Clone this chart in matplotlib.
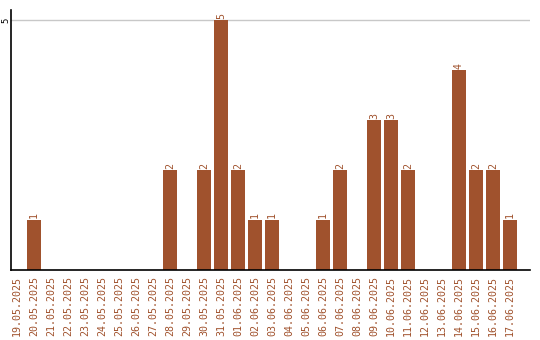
import matplotlib
matplotlib.use("Agg")
import matplotlib.pyplot as plt

# daily counts
dates = [
    "19.05.2025", "20.05.2025", "21.05.2025", "22.05.2025", "23.05.2025",
    "24.05.2025", "25.05.2025", "26.05.2025", "27.05.2025", "28.05.2025",
    "29.05.2025", "30.05.2025", "31.05.2025", "01.06.2025", "02.06.2025",
    "03.06.2025", "04.06.2025", "05.06.2025", "06.06.2025", "07.06.2025",
    "08.06.2025", "09.06.2025", "10.06.2025", "11.06.2025", "12.06.2025",
    "13.06.2025", "14.06.2025", "15.06.2025", "16.06.2025", "17.06.2025",
]
counts = [0, 1, 0, 0, 0, 0, 0, 0, 0, 2,
          0, 2, 5, 2, 1, 1, 0, 0, 1, 2,
          0, 3, 3, 2, 0, 0, 4, 2, 2, 1]

bar_color = "#A0522D"
font = "DejaVu Sans Mono"

fig = plt.figure(figsize=(5.4, 3.4), dpi=100)
ax = fig.add_axes([11 / 540, 70 / 340, 519 / 540, 260 / 340])

x = range(len(dates))
ax.bar(x, counts, width=0.82, color=bar_color, zorder=2)

for i, v in enumerate(counts):
    if v > 0:
        ax.text(i, v + 0.03, str(v), rotation=90, ha="center", va="bottom",
                color=bar_color, fontsize=7.2, family=font)

ax.set_xlim(-0.353, 30.18)
ax.set_ylim(0, 5.2)

ax.set_xticks(list(x))
ax.set_xticklabels(dates, rotation=90, color=bar_color, fontsize=7.2, family=font)
ax.set_yticks([5])
ax.set_yticklabels(["5"], rotation=90, va="center", fontsize=6.5, family=font)
ax.tick_params(axis="x", length=0, pad=4)
ax.tick_params(axis="y", length=0, pad=0.5)

ax.grid(axis="y", color="#c8c8c8", linewidth=1, zorder=0)
for side in ["top", "right"]:
    ax.spines[side].set_visible(False)
ax.spines["left"].set_linewidth(1.2)
ax.spines["bottom"].set_linewidth(1.2)

fig.savefig("out.png", dpi=100, facecolor="white")
